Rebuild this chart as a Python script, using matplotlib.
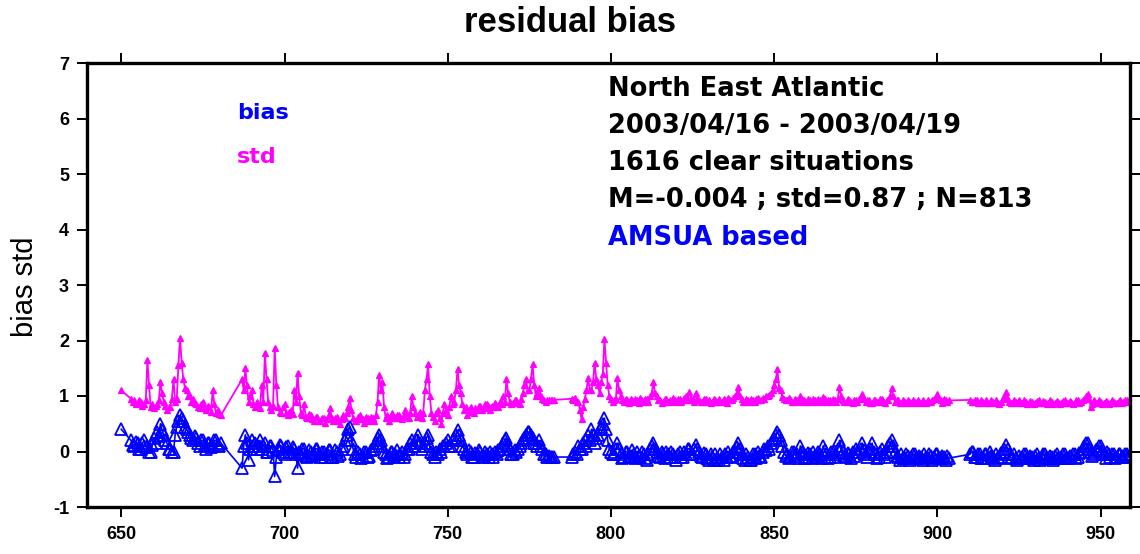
import numpy as np
import matplotlib
matplotlib.use("Agg")
import matplotlib.pyplot as plt

plt.rcParams["font.family"] = ["Liberation Sans", "DejaVu Sans"]
plt.rcParams["axes.unicode_minus"] = False

# wavenumber grid (0.5 step), split where no channel is used
wavenumber = np.concatenate([[650.0],
                             np.arange(653, 681, 0.5),
                             np.arange(687, 783, 0.5),
                             np.arange(788, 904, 0.5),
                             np.arange(910, 959, 0.5)])

std_start, bias_start = [1.1], [0.4]

std_a = [  # 653 - 680.5
    0.95, 0.9, 0.92, 0.85, 0.88, 0.93, 0.9, 0.82, 0.86, 0.92,
    1.65, 1.2, 0.8, 0.85, 0.78, 0.82, 0.85, 0.92, 1.25, 1.05,
    0.9, 0.82, 0.75, 0.8, 0.8, 0.95, 1.3, 0.9, 0.95, 1.55,
    2.05, 1.6, 1.3, 1.15, 1.1, 1.0, 1.0, 0.9, 0.95, 0.88,
    0.85, 0.8, 0.78, 0.85, 0.9, 0.78, 0.75, 0.82, 0.8, 0.72,
    1.1, 0.85, 0.7, 0.75, 0.68, 0.65,
]
bias_a = [
    0.2, 0.12, 0.1, 0.18, 0.15, 0.05, 0.05, 0.15, 0.2, 0.08,
    0.1, 0.0, 0.0, 0.12, 0.25, 0.15, 0.35, 0.28, 0.5, 0.38,
    0.3, 0.2, 0.15, 0.05, 0.05, 0.0, 0.0, 0.3, 0.45, 0.55,
    0.65, 0.6, 0.55, 0.45, 0.4, 0.35, 0.3, 0.25, 0.2, 0.28,
    0.25, 0.15, 0.1, 0.2, 0.2, 0.12, 0.05, 0.15, 0.15, 0.08,
    0.1, 0.2, 0.2, 0.12, 0.1, 0.15,
]

std_b = [  # 687 - 782.5
    1.3, 1.1, 1.5, 1.2, 0.9, 1.0, 1.1, 0.85, 0.8, 0.9,
    0.85, 0.78, 1.2, 0.9, 1.78, 1.3, 0.9, 0.8, 0.75, 0.82,
    1.87, 1.2, 0.8, 0.72, 0.7, 0.8, 0.85, 0.7, 0.65, 0.72,
    0.75, 0.68, 1.1, 0.9, 1.42, 1.0, 0.7, 0.65, 0.85, 0.62,
    0.6, 0.68, 0.65, 0.58, 0.55, 0.62, 0.62, 0.55, 0.55, 0.6,
    0.6, 0.52, 0.58, 0.65, 0.78, 0.6, 0.55, 0.6, 0.62, 0.55,
    0.5, 0.58, 0.65, 0.6, 0.7, 0.8, 0.97, 0.75, 0.6, 0.55,
    0.55, 0.62, 0.65, 0.58, 0.58, 0.52, 0.62, 0.6, 0.55, 0.62,
    0.6, 0.55, 0.65, 0.9, 1.38, 1.1, 1.25, 0.8, 0.6, 0.65,
    0.55, 0.62, 0.7, 0.6, 0.6, 0.65, 0.65, 0.6, 0.58, 0.65,
    0.75, 0.62, 0.6, 0.7, 1.0, 0.8, 0.7, 0.62, 0.65, 0.72,
    0.6, 0.7, 1.1, 1.3, 1.57, 1.0, 0.7, 0.62, 0.55, 0.7,
    0.75, 0.6, 0.5, 0.7, 0.85, 0.75, 0.65, 0.8, 1.0, 0.85,
    0.9, 1.1, 1.48, 1.2, 1.05, 0.85, 0.75, 0.8, 0.65, 0.72,
    0.8, 0.72, 0.7, 0.78, 0.75, 0.82, 0.82, 0.75, 0.78, 0.85,
    0.85, 0.8, 0.75, 0.82, 0.8, 0.88, 0.82, 0.8, 0.9, 0.85,
    1.0, 0.9, 1.3, 1.05, 0.9, 0.85, 0.88, 0.92, 0.92, 0.88,
    0.85, 0.95, 1.05, 1.2, 1.3, 1.1, 1.1, 1.3, 1.57, 1.2,
    1.0, 1.05, 1.15, 1.0, 0.95, 0.92, 0.9, 0.93, 0.92, 0.93,
    0.93, 0.93,
]
bias_b = [
    -0.3, 0.1, 0.3, 0.15, -0.15, 0.05, 0.2, 0.1, 0.15, 0.05,
    0.1, 0.2, 0.05, 0.12, 0.15, 0.0, 0.0, 0.1, 0.1, 0.02,
    -0.45, -0.1, 0.05, 0.12, 0.1, 0.0, -0.05, 0.08, 0.1, 0.0,
    0.0, 0.08, 0.05, -0.05, -0.3, 0.0, -0.05, 0.05, 0.05, -0.08,
    -0.1, 0.02, 0.0, -0.08, -0.05, 0.05, 0.05, -0.05, -0.1, 0.0,
    0.0, -0.1, -0.05, 0.03, 0.02, -0.1, -0.1, 0.02, 0.0, -0.08,
    -0.05, 0.05, 0.1, 0.2, 0.3, 0.4, 0.45, 0.2, 0.05, -0.05,
    -0.1, 0.0, -0.05, -0.12, -0.1, 0.0, 0.0, -0.1, -0.08, 0.02,
    0.05, 0.1, 0.15, 0.25, 0.3, 0.2, 0.1, 0.0, -0.05, -0.12,
    -0.1, 0.0, 0.0, -0.08, -0.05, 0.02, -0.1, -0.05, 0.0, -0.1,
    -0.05, 0.05, 0.05, 0.15, 0.2, 0.1, 0.1, 0.2, 0.3, 0.15,
    0.05, 0.1, 0.15, 0.25, 0.3, 0.1, 0.0, -0.05, -0.1, 0.0,
    -0.05, 0.05, 0.0, 0.1, 0.1, 0.15, 0.2, 0.1, 0.1, 0.2,
    0.25, 0.3, 0.38, 0.3, 0.2, 0.1, 0.05, 0.0, -0.05, 0.02,
    0.0, -0.1, -0.1, -0.02, -0.05, 0.02, 0.0, -0.1, -0.08, 0.0,
    -0.05, -0.1, 0.0, -0.05, -0.1, 0.0, -0.05, 0.02, 0.05, 0.1,
    0.15, 0.2, 0.25, 0.12, 0.05, -0.05, -0.05, 0.02, 0.0, 0.05,
    0.1, 0.15, 0.2, 0.25, 0.3, 0.35, 0.35, 0.3, 0.25, 0.15,
    0.15, 0.1, 0.2, 0.1, 0.05, -0.05, -0.05, -0.1, -0.08, -0.1,
    -0.1, -0.1,
]

std_c = [  # 788 - 903.5
    0.95, 0.93, 0.97, 0.9, 0.9, 0.75, 0.58, 0.8, 0.95, 1.1,
    1.33, 1.1, 1.1, 1.25, 1.6, 1.3, 1.2, 1.05, 1.25, 1.4,
    2.02, 1.6, 1.2, 1.0, 0.95, 0.9, 0.92, 0.95, 1.33, 1.1,
    1.0, 0.92, 0.9, 0.95, 0.93, 0.88, 0.95, 0.92, 0.9, 0.95,
    0.93, 0.88, 0.97, 0.92, 0.9, 0.95, 0.95, 0.9, 1.0, 1.05,
    1.26, 1.05, 1.0, 0.92, 0.92, 0.88, 0.9, 0.95, 0.95, 0.9,
    0.93, 0.9, 0.97, 0.92, 0.9, 0.95, 0.95, 0.9, 0.92, 0.96,
    1.0, 0.93, 1.08, 0.95, 0.95, 0.9, 1.05, 0.95, 0.93, 0.9,
    0.9, 0.95, 0.95, 0.9, 0.92, 0.88, 0.9, 0.95, 0.93, 0.9,
    0.95, 0.9, 0.9, 0.94, 0.93, 0.88, 0.97, 0.92, 0.92, 0.96,
    1.0, 1.05, 1.17, 1.0, 0.95, 0.9, 0.9, 0.94, 0.93, 0.9,
    0.95, 0.92, 0.9, 0.95, 0.97, 0.92, 0.92, 0.96, 0.95, 1.0,
    1.0, 1.02, 1.05, 1.1, 1.2, 1.3, 1.48, 1.15, 1.1, 0.98,
    0.95, 0.92, 0.92, 0.96, 0.95, 0.9, 0.9, 0.94, 0.93, 0.9,
    1.0, 0.95, 0.92, 0.9, 0.9, 0.95, 0.93, 0.9, 0.95, 0.92,
    0.9, 0.94, 0.93, 0.9, 0.98, 0.95, 0.9, 0.93, 0.92, 0.9,
    0.95, 0.92, 0.9, 0.95, 1.17, 1.0, 0.93, 0.9, 0.9, 0.94,
    0.92, 0.9, 0.88, 0.93, 0.93, 0.9, 0.95, 0.98, 1.03, 0.95,
    0.9, 0.93, 0.92, 0.88, 0.88, 0.92, 0.93, 0.9, 0.9, 0.94,
    0.95, 0.9, 0.88, 0.92, 0.92, 1.0, 1.15, 1.0, 0.9, 0.92,
    0.92, 0.88, 0.88, 0.92, 0.9, 0.87, 0.93, 0.9, 0.88, 0.92,
    0.9, 0.87, 0.92, 0.9, 0.88, 0.92, 0.9, 0.87, 0.93, 0.9,
    0.9, 0.93, 0.95, 0.98, 1.03, 0.95, 0.92, 0.88, 0.95, 0.92,
    0.9, 0.92,
]
bias_c = [
    -0.1, -0.05, 0.0, -0.05, 0.1, 0.05, 0.05, 0.15, 0.2, 0.1,
    0.3, 0.2, 0.4, 0.3, 0.15, 0.25, 0.3, 0.4, 0.45, 0.5,
    0.6, 0.4, 0.2, 0.05, 0.0, -0.05, -0.05, 0.05, 0.15, 0.05,
    -0.05, -0.12, -0.1, 0.0, 0.0, -0.1, -0.08, 0.02, -0.05, -0.12,
    0.0, -0.08, -0.1, 0.0, -0.05, -0.12, -0.15, -0.05, 0.05, 0.1,
    0.15, 0.05, 0.0, -0.08, -0.1, 0.0, -0.05, -0.12, 0.0, -0.05,
    -0.1, 0.0, -0.05, -0.1, -0.15, -0.05, 0.0, -0.1, -0.1, 0.0,
    -0.05, 0.05, 0.05, -0.05, -0.05, 0.05, 0.12, 0.05, 0.0, -0.08,
    -0.1, -0.02, -0.05, -0.12, -0.15, -0.05, -0.1, -0.15, -0.05, -0.12,
    -0.15, -0.05, -0.1, -0.15, -0.05, -0.1, 0.0, -0.08, -0.1, 0.0,
    0.0, 0.08, 0.15, 0.05, -0.05, -0.12, -0.15, -0.05, -0.1, -0.15,
    -0.15, -0.05, -0.05, -0.12, 0.0, -0.08, -0.1, 0.0, 0.05, 0.02,
    0.1, 0.05, 0.15, 0.2, 0.25, 0.3, 0.35, 0.3, 0.2, 0.1,
    0.0, -0.08, -0.05, -0.12, -0.1, 0.0, 0.0, -0.08, -0.05, -0.12,
    0.1, 0.0, -0.05, -0.12, -0.1, -0.02, -0.05, -0.12, 0.0, -0.08,
    -0.1, 0.0, -0.05, -0.12, 0.1, 0.02, -0.05, -0.12, -0.1, 0.0,
    0.0, -0.1, -0.05, 0.05, 0.2, 0.1, 0.0, -0.08, -0.1, -0.02,
    -0.05, -0.12, 0.0, -0.08, 0.05, 0.0, 0.0, 0.05, 0.15, 0.02,
    -0.05, -0.1, 0.0, 0.05, 0.15, 0.0, -0.05, -0.12, -0.1, 0.0,
    0.05, -0.05, -0.1, 0.0, 0.1, 0.15, 0.2, 0.1, 0.0, -0.08,
    -0.1, -0.15, -0.05, -0.12, -0.12, -0.05, -0.08, -0.15, -0.1, -0.05,
    -0.05, -0.12, -0.12, -0.08, -0.1, -0.15, -0.05, -0.1, -0.12, -0.05,
    -0.08, -0.15, -0.1, -0.05, -0.05, -0.12, -0.12, -0.08, -0.1, -0.15,
    -0.08, -0.12,
]

std_d = [  # 910 - 958.5
    0.93, 0.9, 0.9, 0.93, 0.92, 0.87, 0.88, 0.92, 0.9, 0.87,
    0.92, 0.88, 0.88, 0.92, 0.9, 0.87, 0.93, 0.88, 0.85, 0.9,
    0.95, 1.0, 1.08, 0.95, 0.9, 0.87, 0.88, 0.92, 0.9, 0.87,
    0.92, 0.88, 0.88, 0.92, 0.9, 0.86, 0.87, 0.91, 0.9, 0.86,
    0.88, 0.91, 0.92, 0.87, 0.87, 0.91, 0.9, 0.86, 0.88, 0.92,
    0.9, 0.86, 0.87, 0.91, 0.9, 0.86, 0.88, 0.91, 0.92, 0.87,
    0.87, 0.91, 0.9, 0.86, 0.88, 0.92, 0.92, 0.87, 0.9, 0.93,
    0.95, 1.0, 1.03, 0.95, 0.8, 0.85, 0.92, 0.88, 0.88, 0.92,
    0.9, 0.86, 0.87, 0.91, 0.9, 0.86, 0.88, 0.92, 0.9, 0.87,
    0.87, 0.91, 0.92, 0.88, 0.9, 0.93, 0.93, 0.9,
]
bias_d = [
    -0.05, 0.0, 0.0, -0.1, -0.1, -0.05, -0.05, -0.12, -0.12, -0.05,
    -0.05, -0.12, 0.0, -0.08, -0.1, -0.15, -0.05, -0.1, -0.12, -0.02,
    0.0, 0.05, 0.12, 0.05, -0.05, -0.12, -0.1, -0.05, -0.12, -0.15,
    -0.08, -0.12, -0.1, -0.05, -0.05, -0.12, -0.12, -0.08, -0.1, -0.15,
    -0.08, -0.05, -0.12, -0.15, -0.1, -0.05, -0.05, -0.12, -0.12, -0.08,
    -0.1, -0.15, -0.08, -0.05, -0.12, -0.12, -0.1, -0.05, -0.05, -0.12,
    -0.12, -0.08, -0.1, -0.05, -0.05, -0.12, -0.1, -0.02, 0.0, 0.05,
    0.1, 0.15, 0.15, 0.05, 0.0, -0.08, -0.05, 0.02, 0.05, 0.1,
    0.1, 0.0, -0.05, -0.12, 0.0, -0.05, -0.1, -0.05, -0.05, -0.12,
    -0.1, -0.05, -0.05, -0.1, -0.08, -0.05, -0.05, -0.1,
]

std = np.concatenate([std_start, std_a, std_b, std_c, std_d])
bias = np.concatenate([bias_start, bias_a, bias_b, bias_c, bias_d])

info_lines = ["North East Atlantic", "2003/04/16 - 2003/04/19",
              "1616 clear situations", "M=-0.004 ; std=0.87 ; N=813"]

W, H = 1140, 554
fig = plt.figure(figsize=(W / 100, H / 100), dpi=100)
ax = fig.add_axes([87 / W, 1 - 507 / H, (1130 - 87) / W, (507 - 63) / H])

ax.plot(wavenumber, std, color="#ff00ff", lw=1.3, marker="^", ms=5,
        mfc="#ff00ff", mec="#ff00ff", mew=0.9)
ax.plot(wavenumber, bias, color="#0000ff", lw=1.2, marker="^", ms=9,
        mfc="none", mec="#0000ff", mew=1.3)

ax.set_xlim(639.5, 959)
ax.set_ylim(-1, 7)
ax.set_xticks([650, 700, 750, 800, 850, 900, 950])
ax.set_yticks(range(-1, 8))
for s in ax.spines.values():
    s.set_linewidth(2.4)
ax.tick_params(direction="out", length=7, width=1.4, top=True, right=True)
tick_font = dict(family=["Liberation Sans Narrow", "Liberation Sans"],
                 weight="bold", size=13)
for lab in ax.get_xticklabels() + ax.get_yticklabels():
    lab.set(**tick_font)
ax.tick_params(axis="x", pad=7)
ax.tick_params(axis="y", pad=6)

fig.text(0.5, 1 - 22 / H, "residual bias", ha="center", va="center",
         fontsize=25, fontweight="bold")
fig.text(25 / W, 1 - 287 / H, "bias std", rotation=90, ha="center",
         va="center", fontsize=21)

label_font = dict(family=["DejaVu Sans"], fontweight="bold", va="center")
fig.text(237 / W, 1 - 113 / H, "bias", color="#0000ff", fontsize=16,
         **label_font)
fig.text(237 / W, 1 - 157 / H, "std", color="#ff00ff", fontsize=16,
         **label_font)

for i, line in enumerate(info_lines):
    fig.text(608 / W, 1 - (89 + 37 * i) / H, line, fontsize=18.5,
             color="black", **label_font)
fig.text(608 / W, 1 - 238 / H, "AMSUA based", color="#0000ff", fontsize=18.5,
         **label_font)

fig.savefig("out.png", dpi=100)
